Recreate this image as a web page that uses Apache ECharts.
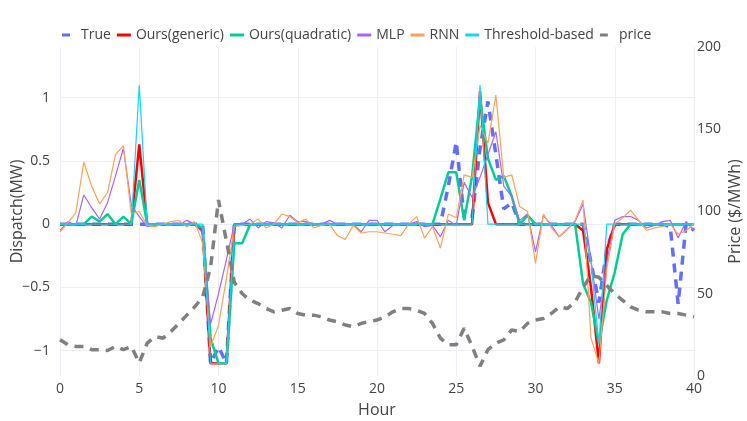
<!DOCTYPE html>
<html>
<head>
<meta charset="utf-8">
<script src="https://cdn.jsdelivr.net/npm/echarts@6/dist/echarts.min.js"></script>
<style>html,body{margin:0;padding:0;background:#fff;}#c{width:747px;height:421px;}</style>
</head>
<body>
<div id="c"></div>
<script>
var hours = [0,0.5,1,1.5,2,2.5,3,3.5,4,4.5,5,5.5,6,6.5,7,7.5,8,8.5,9,9.5,10,10.5,11,11.5,12,12.5,13,13.5,14,14.5,15,15.5,16,16.5,17,17.5,18,18.5,19,19.5,20,20.5,21,21.5,22,22.5,23,23.5,24,24.5,25,25.5,26,26.5,27,27.5,28,28.5,29,29.5,30,30.5,31,31.5,32,32.5,33,33.5,34,34.5,35,35.5,36,36.5,37,37.5,38,38.5,39,39.5,40];

var trueDispatch = [
0,0,0,0,0,0,0,0,0,0,
0,0,0,0,0,0,0,0,0,-1.1,
-0.97,-1.1,0,0,0,0,0,0,0,0,
0,0,0,0,0,0,0,0,0,0,
0,0,0,0,0,0,0,0,0,0.3,
0.65,0.05,0.05,0.6,0.97,0.55,0.12,0.17,0,0,
0,0,0,0,0,0,0,-0.3,-0.62,-0.2,
0,0,0,0,0,0,0,-0.02,-0.63,0,
-0.05];

var oursGeneric = [
0,0,0,0,0,0,0,0,0,0,
0.63,0,0,0,0,0,0,0,-0.05,-1.1,
-1.1,-1.1,0,0,0,0,0,0,0,0,
0,0,0,0,0,0,0,0,0,0,
0,0,0,0,0,0,0,0,0,0,
0,0,0,1.05,0.17,0,0,0,0,0,
0,0,0,0,0,0,-0.05,-0.5,-1.1,-0.2,
0,0,0,0,0,0,0,0,0,0,
0];

var oursQuadratic = [
0,0,0,0,0.06,0.02,0.08,0,0.06,0,
0.35,0,0,0,0,0,0,0,-0.03,-0.9,
-1.1,-1.1,-0.15,-0.15,0,0,0,0,0,0,
0,0,0,0,0,0,0,0,0,0,
0,0,0,0,0,0,0,0,0.2,0.41,
0.41,0.03,0.38,1.0,0.52,0.35,0.38,0.22,0,0.07,
0,0,0,0,0,0,-0.47,-0.62,-0.94,-0.6,
-0.38,-0.08,0,0,0,0,0,0,0,0,
0];

var mlp = [
-0.05,0.02,-0.01,0.23,0.13,0.04,0.17,0.38,0.6,0.15,
0.06,-0.02,-0.01,0,0,-0.01,0.03,0,-0.07,-0.79,
-0.55,-0.28,0,0,0.04,-0.03,0.02,0.01,-0.03,0.07,
0.02,0.02,0,0,0.03,0,0,0,-0.06,0.03,
0.03,-0.06,-0.01,0,0,0.02,-0.02,-0.01,-0.1,0.03,
-0.01,0.33,0.21,0.37,0.55,0.73,0.3,0.22,0.03,0.08,
-0.22,0.07,-0.01,-0.1,-0.04,0.02,0.16,-0.28,-0.75,-0.3,
0.03,0.06,0.06,0.03,-0.03,-0.01,0.02,0.03,-0.11,0.02,
-0.05];

var rnn = [
-0.06,0.01,0.09,0.49,0.3,0.16,0.25,0.55,0.62,0.08,
0.1,-0.01,-0.02,0,0.02,0.03,-0.02,0.02,-0.15,-0.97,
-0.8,-0.43,-0.02,-0.01,0,0.04,-0.03,0,0.08,0.06,
0.01,0.04,-0.03,-0.01,0,-0.09,-0.12,-0.01,-0.07,-0.06,
-0.06,-0.07,-0.08,-0.09,0,0.06,-0.11,-0.02,-0.19,0.08,
0.05,0.39,0.37,0.78,0.64,1.02,0.37,0.39,0.14,0.1,
-0.31,0.08,-0.03,-0.1,-0.04,0.03,0.19,-0.9,-1.1,-0.35,
0,0.05,0.11,0.03,-0.05,-0.03,-0.02,0,-0.08,-0.05,
0];

var thresholdBased = [
0,0,0,0,0,0,0,0,0,0,
1.1,0,0,0,0,0,0,0,0,-1.1,
-1.1,-1.1,0,0,0,0,0,0,0,0,
0,0,0,0,0,0,0,0,0,0,
0,0,0,0,0,0,0,0,0,0,
0,0,0,1.1,0,0,0,0,0,0,
0,0,0,0,0,0,0,-0.3,-0.95,0,
0,0,0,0,0,0,0,0,0,0,
0];

var price = [
22,19,18,18,16,16,15.5,18,16,18,
8,20,24,23,27,32,37,42,48,66,
107,82,57,50,46,44,41,39,40,41,
38,37,37,36,34,33,31,30,32,33,
34,36,39,41,41,40,38,32,23,19,
19,29,18,6,16,20,22,28,27,32,
34,35,38,42,41,45,54,61,60,55,
50,46,42,40,39,39,39,38,38,37,
36];

var xTicks = [0,5,10,15,20,25,30,35,40];
var dispatchTicks = [-1,-0.5,0,0.5,1];
var priceTicks = [0,50,100,150,200];

function pairs(arr){ return hours.map(function(h,i){ return [h, arr[i]]; }); }

var GRID = '#ebf0f8';
var TXT = '#444';
var FONT = 'Open Sans';
var dashIcon = 'path://M0 0h8v3H0zM14 3h0.001v0.001h-0.001z';

function lineSeries(name, arr, color, width, dashed, yIdx) {
  return {
    name: name, type: 'line', data: pairs(arr), yAxisIndex: yIdx || 0,
    symbol: 'none', showSymbol: false, smooth: false, animation: false,
    color: color,
    lineStyle: { color: color, width: width, type: dashed ? [9, 7] : 'solid', cap: 'butt' },
    emphasis: { disabled: true }
  };
}

var chart = echarts.init(document.getElementById('c'), null, { renderer: 'canvas' });
chart.setOption({
  backgroundColor: '#fff',
  animation: false,
  textStyle: { fontFamily: FONT, color: TXT },
  grid: { left: 60, right: 53, top: 47, bottom: 45, containLabel: false, outerBoundsMode: 'none' },
  legend: {
    left: 62, top: 28, padding: 0, itemGap: 6, itemWidth: 14, itemHeight: 3,
    textStyle: { fontFamily: FONT, fontSize: 14, color: TXT },
    data: [
      { name: 'True', icon: dashIcon },
      { name: 'Ours(generic)', icon: 'rect' },
      { name: 'Ours(quadratic)', icon: 'rect' },
      { name: 'MLP', icon: 'rect' },
      { name: 'RNN', icon: 'rect' },
      { name: 'Threshold-based', icon: 'rect' },
      { name: 'price', icon: dashIcon }
    ]
  },
  xAxis: {
    type: 'value', min: 0, max: 40, interval: 5,
    name: 'Hour', nameLocation: 'middle', nameGap: 26, nameMoveOverlap: false,
    nameTextStyle: { fontFamily: FONT, fontSize: 16, color: TXT },
    axisLine: { show: true, lineStyle: { color: GRID, width: 1 } },
    axisTick: { show: false },
    axisLabel: { fontFamily: FONT, fontSize: 14, color: TXT, margin: 6,
      customValues: xTicks },
    splitLine: { show: true, lineStyle: { color: GRID, width: 1 } }
  },
  yAxis: [
    {
      type: 'value', min: -1.2, max: 1.4, position: 'left',
      name: 'Dispatch(MW)', nameLocation: 'middle', nameGap: 35, nameRotate: 90,
      nameMoveOverlap: false,
      nameTextStyle: { fontFamily: FONT, fontSize: 16, color: TXT },
      axisLine: { show: false },
      axisTick: { show: false, customValues: dispatchTicks },
      axisLabel: { fontFamily: FONT, fontSize: 14, color: TXT, margin: 10,
        customValues: dispatchTicks,
        formatter: function (v) { return String(v).replace('-', '\u2212'); } },
      splitLine: { show: true, lineStyle: { color: GRID, width: 1 } }
    },
    {
      type: 'value', min: 0, max: 200, interval: 50, position: 'right',
      name: 'Price ($/MWh)', nameLocation: 'middle', nameGap: 33, nameRotate: 90,
      nameMoveOverlap: false,
      nameTextStyle: { fontFamily: FONT, fontSize: 16, color: TXT },
      axisLine: { show: false },
      axisTick: { show: false },
      axisLabel: { fontFamily: FONT, fontSize: 14, color: TXT, margin: 3,
        customValues: priceTicks },
      splitLine: { show: false }
    }
  ],
  series: [
    lineSeries('True', trueDispatch, '#636efa', 3.5, true),
    lineSeries('Ours(generic)', oursGeneric, '#ff0000', 2.5, false),
    lineSeries('Ours(quadratic)', oursQuadratic, '#00cc96', 2.5, false),
    lineSeries('MLP', mlp, '#ab63fa', 1.2, false),
    lineSeries('RNN', rnn, '#ffa15a', 1.2, false),
    lineSeries('Threshold-based', thresholdBased, '#19d3f3', 1.2, false),
    lineSeries('price', price, '#808080', 3.5, true, 1)
  ]
});
</script>
</body>
</html>
